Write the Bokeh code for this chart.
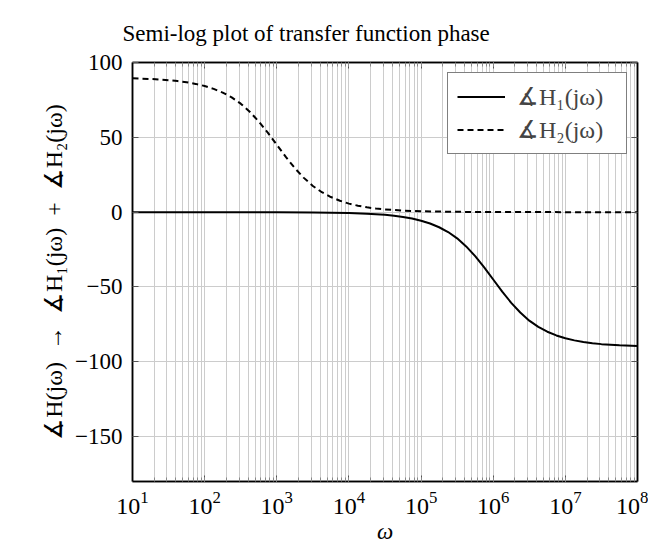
from bokeh.plotting import figure
from bokeh.models import (FixedTicker, LogTicker, LogAxis, LinearAxis, Range1d,
                          Legend, LegendItem, Title, CustomJSTickFormatter)
from bokeh.embed import file_html
from bokeh.resources import INLINE

# ---- data ----
log_omega_h1 = [1.0, 2.0, 3.0, 3.5, 4.0, 4.25, 4.5, 4.625, 4.75, 4.875, 5.0, 5.125,
                5.25, 5.375, 5.5, 5.625, 5.75, 5.875, 6.0, 6.125, 6.25, 6.375, 6.5,
                6.625, 6.75, 6.875, 7.0, 7.125, 7.25, 7.375, 7.5, 7.75, 8.0]
phase_h1 = [0.0, 0.0, -0.1, -0.2, -0.6, -1.0, -1.8, -2.4, -3.2, -4.3, -5.7, -7.6,
            -10.1, -13.3, -17.5, -22.9, -29.4, -36.9, -45.0, -53.1, -60.6, -67.1, -72.5,
            -76.7, -79.9, -82.4, -84.3, -85.7, -86.8, -87.6, -88.2, -89.0, -89.4]

log_omega_h2 = [1.0, 1.25, 1.5, 1.625, 1.75, 1.875, 2.0, 2.125, 2.25, 2.375, 2.5,
                2.625, 2.75, 2.875, 3.0, 3.125, 3.25, 3.375, 3.5, 3.625, 3.75, 3.875,
                4.0, 4.125, 4.25, 4.375, 4.5, 4.75, 5.0, 5.5, 6.0, 7.0, 8.0]
phase_h2 = [89.4, 89.0, 88.2, 87.6, 86.8, 85.7, 84.3, 82.4, 79.9, 76.7, 72.5,
            67.1, 60.6, 53.1, 45.0, 36.9, 29.4, 22.9, 17.5, 13.3, 10.1, 7.6,
            5.7, 4.3, 3.2, 2.4, 1.8, 1.0, 0.6, 0.2, 0.1, 0.0, 0.0]

y_ticks = [-150, -100, -50, 0, 50, 100]
y_tick_labels = ["\u2212150", "\u2212100", "\u221250", "0", "50", "100"]

title_text = "Semi-log plot of transfer function phase"
x_label = "\u03c9"
y_label = ("\u2221H(j\u03c9)\u2002\u2192\u2002\u2221H\u2081(j\u03c9)"
           "\u2002+\u2002\u2221H\u2082(j\u03c9)")
legend_labels = ["\u2221H\u2081(j\u03c9)", "\u2221H\u2082(j\u03c9)"]

omega_h1 = [10 ** e for e in log_omega_h1]
omega_h2 = [10 ** e for e in log_omega_h2]

FONT = "Liberation Serif"
FS = "23px"
GRID = "#cccccc"

p = figure(frame_width=505, frame_height=419, x_axis_type="log", output_backend="svg",
           toolbar_location=None,
           x_range=Range1d(10, 1e8), y_range=Range1d(-180, 100),
           min_border_left=132, min_border_right=11, min_border_top=62,
           min_border_bottom=62)

p.title = Title(text=title_text, align="left", text_font=FONT, offset=-10,
                standoff=34,
                text_font_size=FS, text_font_style="normal", text_color="black")

p.outline_line_color = "black"
p.outline_line_width = 1.5

# grids
p.xgrid.grid_line_color = GRID
p.xgrid.minor_grid_line_color = GRID
p.ygrid.grid_line_color = GRID
p.ygrid.ticker = FixedTicker(ticks=y_ticks)

# axes
xa = p.xaxis[0]
xa.ticker = LogTicker(num_minor_ticks=10)
xa.axis_label = x_label
xa.axis_label_text_font = FONT
xa.axis_label_text_font_size = FS
xa.axis_label_text_font_style = "italic"
xa.axis_label_standoff = 2
xa.major_label_text_font = FONT
xa.major_label_text_font_size = "24px"
xa.major_label_standoff = 10

ya = p.yaxis[0]
ya.ticker = FixedTicker(ticks=y_ticks)
ya.major_label_overrides = {t: l for t, l in zip(y_ticks, y_tick_labels)}
ya.axis_label = y_label
ya.axis_label_text_font = FONT
ya.axis_label_text_font_size = "24px"
ya.axis_label_text_font_style = "normal"
ya.major_label_text_font = FONT
ya.major_label_text_font_size = FS
ya.major_label_standoff = 10

for ax in (xa, ya):
    ax.axis_line_color = "black"
    ax.axis_line_width = 1.5
    ax.major_tick_in = 6
    ax.major_tick_out = 0
    ax.minor_tick_in = 4
    ax.minor_tick_out = 0
    ax.major_tick_line_color = "#555555"
    ax.minor_tick_line_color = "#888888"
    ax.axis_label_text_color = "black"
    ax.major_label_text_color = "black"
ya.minor_tick_line_color = None

blank = CustomJSTickFormatter(code="return ''")
top = LogAxis(ticker=LogTicker(num_minor_ticks=10), formatter=blank,
              major_tick_in=6, major_tick_out=0, minor_tick_in=4, minor_tick_out=0,
              axis_line_color="black", axis_line_width=1.5, major_label_standoff=0,
              major_tick_line_color="#555555", minor_tick_line_color="#888888")
right = LinearAxis(ticker=FixedTicker(ticks=y_ticks), formatter=blank,
                   major_tick_in=6, major_tick_out=0, minor_tick_line_color=None,
                   axis_line_color="black", axis_line_width=1.5, major_label_standoff=0,
                   major_tick_line_color="#555555")
p.add_layout(top, "above")
p.add_layout(right, "right")

r1 = p.line(omega_h1, phase_h1, line_color="black", line_width=2)
r2 = p.line(omega_h2, phase_h2, line_color="black", line_width=2, line_dash="6 4")

legend = Legend(items=[LegendItem(label=legend_labels[0], renderers=[r1]),
                       LegendItem(label=legend_labels[1], renderers=[r2])],
                location="top_right", label_text_font=FONT, label_text_font_size="24px",
                border_line_color="black", border_line_width=1.5,
                background_fill_alpha=1, glyph_width=48, glyph_height=29,
                label_height=29, label_width=100, spacing=4, padding=9, margin=10,
                label_standoff=12)
p.add_layout(legend, "center")

open("out.html", "w").write(file_html(p, INLINE))
